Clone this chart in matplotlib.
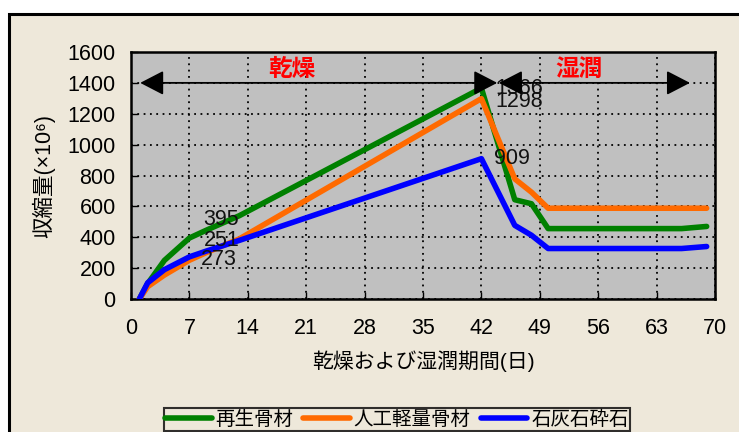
import matplotlib.pyplot as plt
from matplotlib.patches import Rectangle

plt.rcParams['font.family'] = ['Liberation Sans Narrow', 'Liberation Sans',
                               'Noto Sans CJK JP', 'DejaVu Sans']
cjk_family = ['Noto Sans CJK JP', 'DejaVu Sans']

# 測定日 (日)
days = [1, 2, 4, 7, 9, 13, 42, 46, 48, 50, 66, 69]

# 収縮量 (×10^-6)
recycled = [0, 100, 250, 395, 445, 540, 1366, 643, 617, 456, 456, 470]
lightweight = [0, 80, 155, 251, 300, 390, 1298, 778, 692, 588, 588, 588]
limestone = [0, 105, 190, 273, 310, 380, 909, 477, 413, 327, 327, 340]

series_names = ['再生骨材', '人工軽量骨材', '石灰石砕石']
series_colors = ['#008000', '#FF6A00', '#0000FF']

# 値ラベル: (日, 値, ずらし量[pt])
value_labels = [
    (7, 395, (23, 13)),
    (7, 251, (23, 14)),
    (7, 273, (21, -2)),
    (42, 1366, (27, 0)),
    (42, 1298, (27, -2)),
    (42, 909, (22, 0)),
]

fig = plt.figure(figsize=(7.39, 4.32), dpi=100)
fig.patch.set_facecolor('white')

# 外枠
fig.add_artist(Rectangle((9 / 739, -0.1), 1.2, 1 - 14 / 432 + 0.1,
                         transform=fig.transFigure, facecolor='#EEE8DA',
                         edgecolor='black', lw=2.2, zorder=0))

ax = fig.add_axes([131 / 739, 1 - 299 / 432, (715 - 131) / 739, (299 - 52) / 432])
ax.set_facecolor('#C0C0C0')

for vals, name, col in zip([recycled, lightweight, limestone], series_names, series_colors):
    ax.plot(days, vals, color=col, lw=4.0, label=name, solid_capstyle='round',
            solid_joinstyle='round', zorder=3)

for d, v, off in value_labels:
    ax.annotate(str(v), xy=(d, v), xytext=off, textcoords='offset points',
                ha='center', va='center', fontsize=15.5, color='#111111', zorder=4)

ax.set_xlim(0, 70)
ax.set_ylim(0, 1600)
ax.set_xticks(range(0, 71, 7))
ax.set_yticks(range(0, 1601, 200))
ax.tick_params(labelsize=15.5, direction='in', length=5, width=1)
ax.tick_params(axis='x', pad=14)
ax.tick_params(axis='y', pad=11)
ax.grid(True, color='black', linestyle=(0, (1, 2.5)), lw=1.3)
for side in ['left', 'bottom', 'right', 'top']:
    ax.spines[side].set_linewidth(1.8)

# 乾燥・湿潤の区間を示す矢印
arrow_style = '<|-|>,head_length=1.45,head_width=0.75'
ax.annotate('', xy=(1.1, 1400), xytext=(43.9, 1400),
            arrowprops=dict(arrowstyle=arrow_style, color='black', lw=1.3,
                            shrinkA=0, shrinkB=0), zorder=5)
ax.annotate('', xy=(44.1, 1400), xytext=(67.0, 1400),
            arrowprops=dict(arrowstyle=arrow_style, color='black', lw=1.3,
                            shrinkA=0, shrinkB=0), zorder=5)
ax.text(19.3, 1490, '乾燥', color='#FF0000', fontsize=17, fontweight='bold',
        family=cjk_family, ha='center', va='center', zorder=5)
ax.text(53.7, 1490, '湿潤', color='#FF0000', fontsize=17, fontweight='bold',
        family=cjk_family, ha='center', va='center', zorder=5)

ax.set_xlabel('乾燥および湿潤期間(日)', fontsize=15, labelpad=8)
ax.set_ylabel('収縮量(×10⁶)', fontsize=15.5, labelpad=9)

leg = ax.legend(loc='lower left', bbox_to_anchor=(164 / 739, 1 - 431 / 432),
                bbox_transform=fig.transFigure, ncol=3,
                prop={'family': cjk_family, 'size': 14},
                frameon=True, fancybox=False, borderpad=0.05, handlelength=2.4,
                handletextpad=0.2, columnspacing=0.5, borderaxespad=0)
leg.get_frame().set_edgecolor('black')
leg.get_frame().set_linewidth(1.5)
leg.get_frame().set_facecolor('#EEE8DA')

fig.savefig('out.png', dpi=100)
